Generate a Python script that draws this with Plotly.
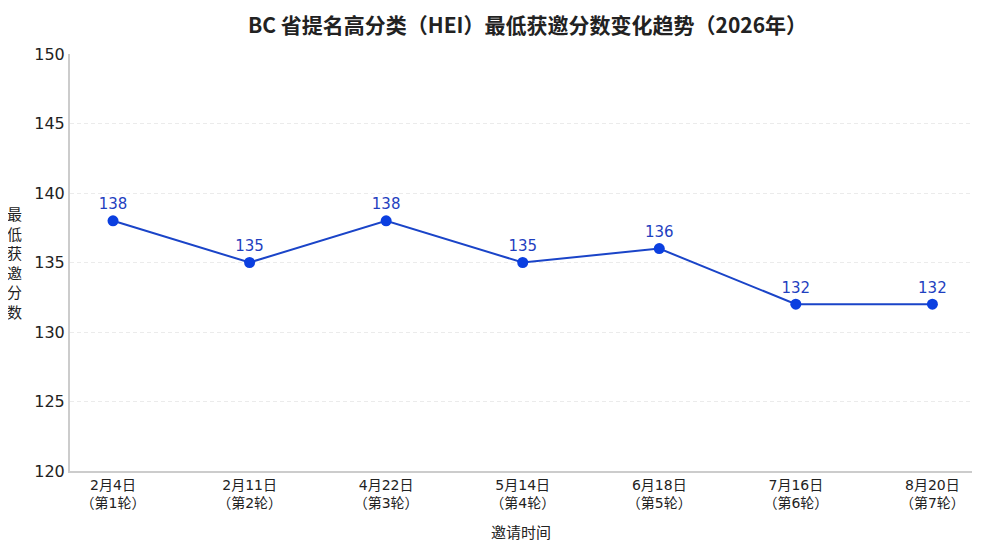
import plotly.graph_objects as go

# data
rounds = ["2月4日<br>（第1轮）", "2月11日<br>（第2轮）", "4月22日<br>（第3轮）", "5月14日<br>（第4轮）",
          "6月18日<br>（第5轮）", "7月16日<br>（第6轮）", "8月20日<br>（第7轮）"]
scores = [138, 135, 138, 135, 136, 132, 132]
x_pos = list(range(len(rounds)))
y_ticks = [120, 125, 130, 135, 140, 145, 150]

FONT = "Noto Sans CJK SC, Noto Sans, sans-serif"
TICKFONT = "DejaVu Sans, Noto Sans CJK SC, sans-serif"
BLUE = "#1a44c8"

fig = go.Figure()
fig.add_trace(go.Scatter(
    x=x_pos, y=scores, mode="lines+markers+text",
    text=[str(v) for v in scores], textposition="top center",
    textfont=dict(size=15, color="#1f3fbf", family=TICKFONT),
    line=dict(color=BLUE, width=2),
    marker=dict(color="#0b3fe0", size=11),
    showlegend=False, cliponaxis=False,
))

# the page adds an 8px body margin, so the figure is sized to fit inside it
fig.update_layout(
    width=984, height=533,
    paper_bgcolor="white", plot_bgcolor="white",
    margin=dict(l=62, r=20, t=46, b=70),
    font=dict(family=FONT, color="#222222"),
    title=dict(text="<b>BC 省提名高分类（HEI）最低获邀分数变化趋势（2026年）</b>",
               x=0.528, xanchor="center", y=0.966, yanchor="middle",
               font=dict(size=21, color="#222222", family=FONT)),
)
fig.update_xaxes(
    tickvals=x_pos, ticktext=rounds, range=[-0.315, 6.29],
    showgrid=False, zeroline=False,
    showline=True, linecolor="#cccccc", linewidth=2,
    tickfont=dict(size=14, color="#222222", family=TICKFONT), ticks="",
)
fig.update_yaxes(
    range=[120, 150], tickvals=y_ticks,
    showgrid=True, gridcolor="#ebebeb", griddash="4px,3px", gridwidth=1,
    zeroline=False, showline=True, linecolor="#cccccc", linewidth=2,
    tickfont=dict(size=16, color="#222222", family=TICKFONT), ticks="",
)

# axis titles as annotations (stacked characters on the y side)
fig.add_annotation(text="邀请时间", xref="paper", yref="paper", x=0.5, y=-0.146,
                   xanchor="center", yanchor="middle", showarrow=False,
                   font=dict(size=15, color="#222222", family=FONT))
fig.add_annotation(text="最<br>低<br>获<br>邀<br>分<br>数", xref="paper", yref="paper",
                   x=-0.062, y=0.5, xanchor="center", yanchor="middle", showarrow=False,
                   font=dict(size=15, color="#222222", family=FONT))

fig.write_html("out.html")
